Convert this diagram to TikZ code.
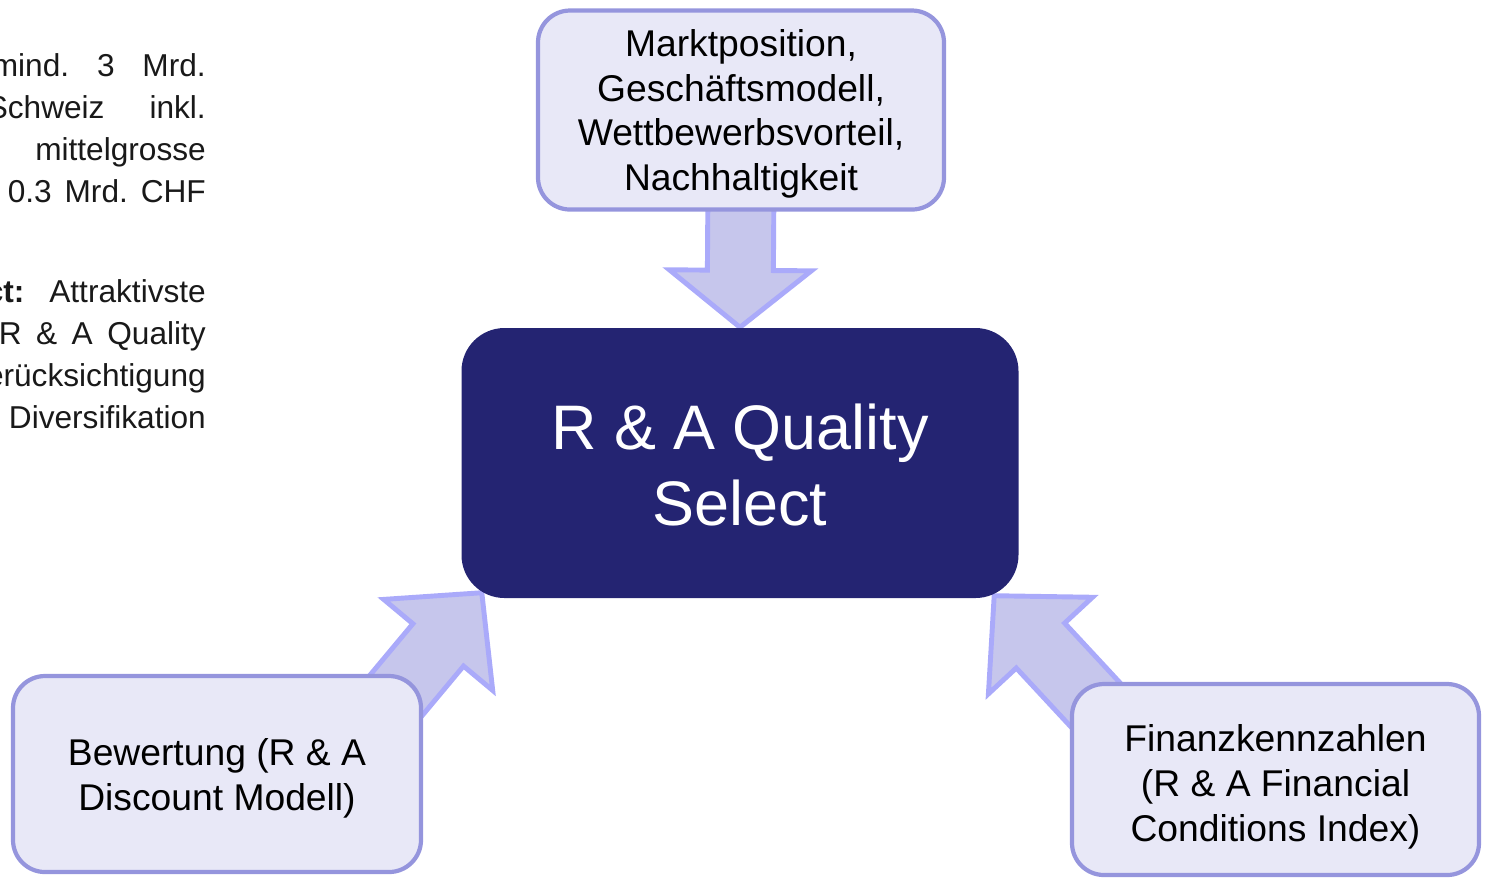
\documentclass[tikz,border=0pt]{standalone}
\usepackage{fontspec}
\setmainfont{Liberation Sans}
\usetikzlibrary{positioning, calc, backgrounds}

\definecolor{qsnavy}{RGB}{36,36,114}
\definecolor{boxfill}{RGB}{232,232,247}
\definecolor{boxline}{RGB}{149,149,221}
\definecolor{arrowfill}{RGB}{198,198,236}
\definecolor{arrowline}{RGB}{170,170,250}
\definecolor{sidetext}{RGB}{25,25,25}

\newcommand{\boxtext}[2]{\raisebox{#1}[\height][\depth]{\begin{tabular}{@{}c@{}}#2\end{tabular}}}

\tikzset{
  critbox/.style={draw=boxline, fill=boxfill, line width=1.2pt, rounded corners=0.32cm,
    align=center, inner sep=0pt, font=\fontsize{10.6}{12.7}\selectfont},
  corebox/.style={fill=qsnavy, text=white, rounded corners=0.43cm, align=center,
    inner sep=0pt, font=\fontsize{17.9}{21.7}\selectfont},
  blockarrow/.style={draw=arrowline, fill=arrowfill, line width=1.4pt, line join=miter},
  sideline/.style={anchor=base east, inner sep=0pt, text=sidetext,
    font=\frenchspacing\fontsize{9}{10.8}\selectfont},
}

\begin{document}
\begin{tikzpicture}
\useasboundingbox (0,0) rectangle (14.86,-8.79);

% text column, cut off at the left edge
\path (2.065,-0.76) node[sideline] (side1) {\makebox[2.14cm][s]{mind. 3 Mrd.}};
\path (2.065,-1.18) node[sideline] (side2) {\makebox[2.19cm][s]{Schweiz inkl.}};
\path (2.065,-1.60) node[sideline] (side3) {mittelgrosse};
\path (2.065,-2.02) node[sideline] (side4) {\makebox[1.98cm][s]{0.3 Mrd. CHF}};
\path (2.065,-3.02) node[sideline] (side5) {\makebox[2.20cm][s]{\textbf{ct:} Attraktivste}};
\path (2.065,-3.44) node[sideline] (side6) {\makebox[2.07cm][s]{R \& A Quality}};
\path (2.065,-3.86) node[sideline] (side7) {erücksichtigung};
\path (2.065,-4.28) node[sideline] (side8) {Diversifikation};

\node[corebox, minimum width=5.57cm, minimum height=2.70cm] (qs) at (7.40,-4.63)
  {\boxtext{-0.09cm}{R \& A Quality\\Select}};

\node[critbox, minimum width=4.06cm, minimum height=1.99cm] (markt) at (7.41,-1.10)
  {\boxtext{-0.045cm}{Marktposition,\\Geschäftsmodell,\\Wettbewerbsvorteil,\\Nachhaltigkeit}};
\node[critbox, minimum width=4.08cm, minimum height=1.96cm] (bewertung) at (2.17,-7.74)
  {\boxtext{-0.05cm}{Bewertung (R \& A\\Discount Modell)}};
\node[critbox, minimum width=4.07cm, minimum height=1.91cm] (finanz) at (12.755,-7.795)
  {\boxtext{-0.08cm}{Finanzkennzahlen\\(R \& A Financial\\Conditions Index)}};

\begin{scope}[on background layer]
\coordinate (markt-in) at ($(markt.south)+(0,0.3)$);
\coordinate (bew-in) at ($(bewertung.north east)+(-0.30,-0.25)$);
\coordinate (fin-in) at ($(finanz.north west)+(0.34,-0.32)$);
\coordinate (qs-top) at (qs.north);
\coordinate (qs-left) at ($(qs.south west)+(0.21,0.06)$);
\coordinate (qs-right) at ($(qs.south east)+(-0.25,0.03)$);
\foreach \from/\to/\len in {markt-in/qs-top/0.57cm, bew-in/qs-left/0.68cm, fin-in/qs-right/0.68cm} {
  \coordinate (head) at ($(\to)!\len!(\from)$);
  \draw[blockarrow] ($(\from)!0.33cm!90:(\to)$) -- ($(head)!0.33cm!90:(\to)$)
    -- ($(head)!0.71cm!90:(\to)$) -- (\to) -- ($(head)!0.71cm!-90:(\to)$)
    -- ($(head)!0.33cm!-90:(\to)$) -- ($(\from)!0.33cm!-90:(\to)$) -- cycle;
}
\end{scope}
\end{tikzpicture}
\end{document}
